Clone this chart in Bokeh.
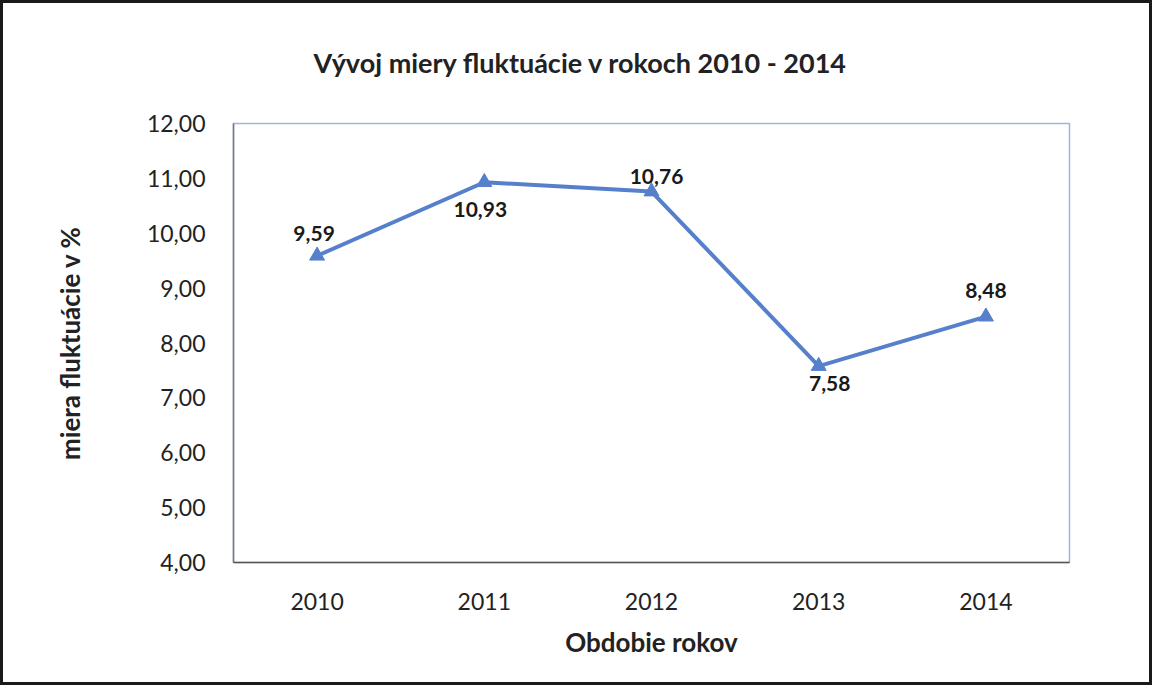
from bokeh.plotting import figure
from bokeh.models import ColumnDataSource, LabelSet, Range1d, FixedTicker, CustomJSTickFormatter
from bokeh.core.properties import value
from bokeh.embed import file_html
from bokeh.resources import INLINE

years = ["2010", "2011", "2012", "2013", "2014"]
values = [9.59, 10.93, 10.76, 7.58, 8.48]
y_ticks = [4, 5, 6, 7, 8, 9, 10, 11, 12]

title_text = "Vývoj miery fluktuácie v rokoch 2010 - 2014"
x_label = "Obdobie rokov"
y_label = "miera fluktuácie v %"

# label placement style (screen px): positive = above / right
label_y_offsets = [22, -27, 15, -17, 26]
label_x_offsets = [-3, -4, 5, 11, 0]

FONT = "Lato"
BLUE = "#5680cc"

src = ColumnDataSource(dict(
    x=years,
    y=values,
    txt=[f"{v:.2f}".replace(".", ",") for v in values],
    yoff=label_y_offsets,
    xoff=label_x_offsets,
))

p = figure(
    x_range=years, y_range=Range1d(4, 12),
    width=1152, height=685,
    output_backend="svg", toolbar_location=None,
    min_border_left=230, min_border_right=86,
    min_border_top=120, min_border_bottom=126,
)
p.styles = {"border": "3px solid #1a1a1a"}

p.title.text = title_text
p.title.text_font = FONT
p.title.text_font_size = "27px"
p.title.text_font_style = "bold"
p.title.text_color = "#222222"
p.title.align = "left"
p.title.offset = 80
p.title.vertical_align = "top"
p.title.standoff = 85

p.line("x", "y", source=src, line_color=BLUE, line_width=4)
p.scatter("x", "y", source=src, marker="triangle", size=15, fill_color=BLUE, line_color=BLUE)

labels = LabelSet(x="x", y="y", text="txt", source=src, y_offset="yoff", x_offset="xoff",
                  text_align="center", text_baseline="middle",
                  text_font=value(FONT),
                  text_font_size="21px", text_font_style="bold", text_color="#1a1a1a")
p.add_layout(labels)

p.xgrid.grid_line_color = None
p.ygrid.grid_line_color = None
p.outline_line_color = "#9fb2e0"
p.outline_line_width = 1.5

p.yaxis.ticker = FixedTicker(ticks=y_ticks)
p.yaxis.formatter = CustomJSTickFormatter(code="return tick.toFixed(2).replace('.', ',');")

for ax in (p.xaxis[0], p.yaxis[0]):
    ax.major_tick_line_color = None
    ax.minor_tick_line_color = None
    ax.major_label_text_font = FONT
    ax.major_label_text_font_size = "23px"
    ax.major_label_text_color = "#222222"
    ax.axis_label_text_font = FONT
    ax.axis_label_text_font_size = "26px"
    ax.axis_label_text_font_style = "bold"
    ax.axis_label_text_color = "#222222"
    ax.axis_line_width = 1.5

p.xaxis.axis_line_color = "#555555"
p.yaxis.axis_line_color = "#777777"
p.xaxis.axis_label = x_label
p.yaxis.axis_label = y_label
p.xaxis.major_label_standoff = 24
p.yaxis.major_label_standoff = 22
p.xaxis.axis_label_standoff = 13
p.yaxis.axis_label_standoff = 58
p.background_fill_color = "white"
p.border_fill_color = "white"

open("out.html", "w").write(file_html(p, INLINE))
